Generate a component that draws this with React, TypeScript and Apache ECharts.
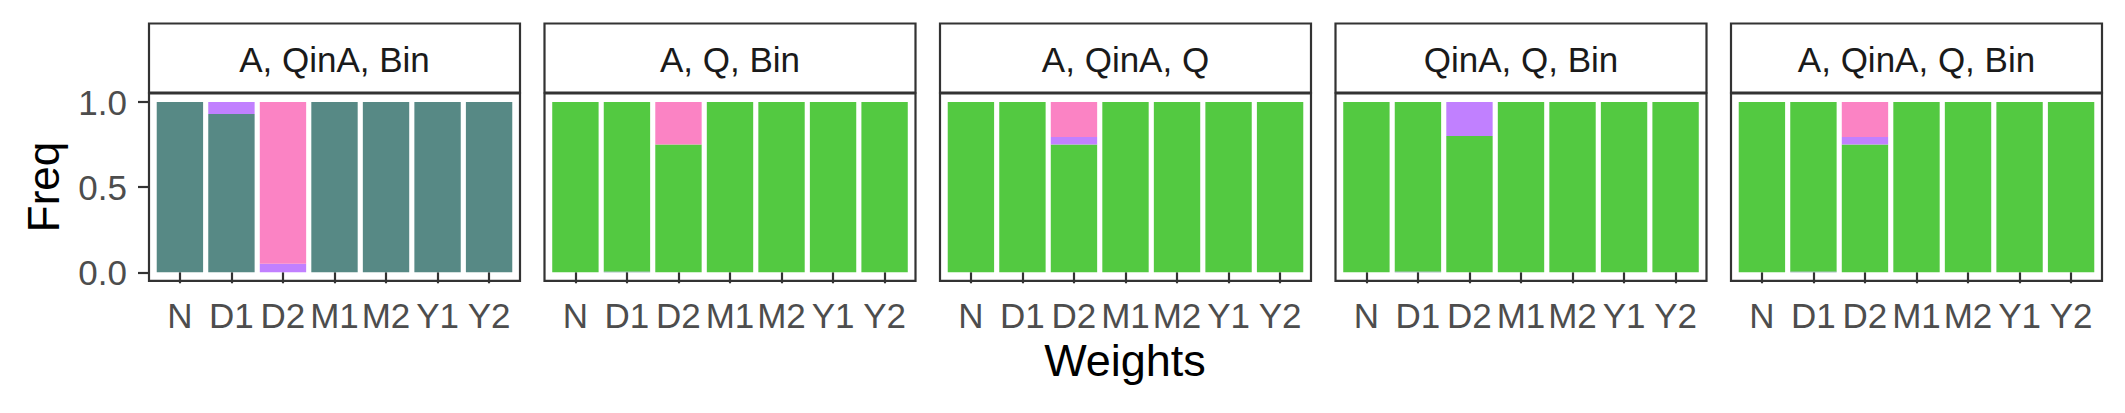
import React, { useEffect, useRef } from "react";
import * as echarts from "echarts";

// ---- data ----
const categories = ["N", "D1", "D2", "M1", "M2", "Y1", "Y2"];
const panelTitles = ["A, QinA, Bin", "A, Q, Bin", "A, QinA, Q", "QinA, Q, Bin", "A, QinA, Q, Bin"];
const yTicks = [0, 0.5, 1.0];
const xAxisTitle = "Weights";
const yAxisTitle = "Freq";

// Frequencies per panel (rows) and per weight category (columns)
const tealFreq = [
  [1, 0.93, 0, 1, 1, 1, 1],
  [0, 0.005, 0, 0, 0, 0, 0],
  [0, 0, 0, 0, 0, 0, 0],
  [0, 0.005, 0, 0, 0, 0, 0],
  [0, 0.005, 0, 0, 0, 0, 0],
];
const greenFreq = [
  [0, 0, 0, 0, 0, 0, 0],
  [1, 0.995, 0.75, 1, 1, 1, 1],
  [1, 1, 0.75, 1, 1, 1, 1],
  [1, 0.995, 0.8, 1, 1, 1, 1],
  [1, 0.995, 0.75, 1, 1, 1, 1],
];
const purpleFreq = [
  [0, 0.07, 0.05, 0, 0, 0, 0],
  [0, 0, 0, 0, 0, 0, 0],
  [0, 0, 0.045, 0, 0, 0, 0],
  [0, 0, 0.2, 0, 0, 0, 0],
  [0, 0, 0.045, 0, 0, 0, 0],
];
const pinkFreq = [
  [0, 0, 0.95, 0, 0, 0, 0],
  [0, 0, 0.25, 0, 0, 0, 0],
  [0, 0, 0.205, 0, 0, 0, 0],
  [0, 0, 0, 0, 0, 0, 0],
  [0, 0, 0.205, 0, 0, 0, 0],
];

const fills = [
  { name: "teal", color: "#578985", values: tealFreq },
  { name: "green", color: "#53C941", values: greenFreq },
  { name: "purple", color: "#C180FF", values: purpleFreq },
  { name: "pink", color: "#FB83C4", values: pinkFreq },
];

const FONT = "'Liberation Sans', Arial, Helvetica, sans-serif";
const W = 2125;
const H = 413;
const PANEL_LEFT0 = 149;
const PANEL_STEP = 395.5;
const PANEL_W = 371;
const PANEL_TOP = 93.5;
const PANEL_H = 187.3;
const STRIP_TOP = 23.5;
const STRIP_H = 69;
const BORDER = "#333333";
const LW = 2.2;
// ggplot discrete expansion: 0.6 units each side -> 7.2 units across the panel
const UNIT = PANEL_W / 7.2;
const INSET = 0.1 * UNIT;

export default function App() {
  const ref = useRef<HTMLDivElement>(null);

  useEffect(() => {
    document.body.style.margin = "0";
    if (!ref.current) return;
    const chart = echarts.init(ref.current, null, { renderer: "svg" });

    const grids: any[] = [];
    const xAxes: any[] = [];
    const yAxes: any[] = [];
    const series: any[] = [];
    const graphics: any[] = [];

    panelTitles.forEach((title, i) => {
      const left = PANEL_LEFT0 + i * PANEL_STEP;
      grids.push({
        left: left + INSET,
        top: PANEL_TOP,
        width: PANEL_W - 2 * INSET,
        height: PANEL_H,
        show: false,
        containLabel: false,
        outerBoundsMode: "none",
      });
      xAxes.push({
        type: "category",
        gridIndex: i,
        data: categories,
        boundaryGap: true,
        axisLine: { show: false },
        splitLine: { show: false },
        axisTick: {
          show: true,
          alignWithLabel: true,
          length: 11,
          lineStyle: { color: BORDER, width: LW },
        },
        axisLabel: {
          show: true,
          interval: 0,
          fontSize: 35,
          fontFamily: FONT,
          color: "#4D4D4D",
          margin: 17,
        },
      });
      yAxes.push({
        type: "value",
        gridIndex: i,
        min: -0.05,
        max: 1.05,
        offset: INSET,
        axisLine: { show: false },
        splitLine: { show: false },
        axisTick: {
          show: i === 0,
          customValues: yTicks,
          length: 11,
          lineStyle: { color: BORDER, width: LW },
        },
        axisLabel: {
          show: i === 0,
          customValues: yTicks,
          formatter: (v: number) => v.toFixed(1),
          fontSize: 35,
          fontFamily: FONT,
          color: "#4D4D4D",
          margin: 22,
        },
      });
      fills.forEach((f) => {
        series.push({
          type: "bar",
          name: f.name,
          xAxisIndex: i,
          yAxisIndex: i,
          stack: "panel" + i,
          barWidth: "90%",
          itemStyle: { color: f.color },
          data: f.values[i],
        });
      });
      graphics.push({
        type: "rect",
        z: 10,
        shape: { x: left, y: PANEL_TOP, width: PANEL_W, height: PANEL_H },
        style: { fill: "none", stroke: BORDER, lineWidth: LW },
      });
      graphics.push({
        type: "rect",
        shape: { x: left, y: STRIP_TOP, width: PANEL_W, height: STRIP_H },
        style: { fill: "#FFFFFF", stroke: BORDER, lineWidth: LW },
      });
      graphics.push({
        type: "text",
        x: left + PANEL_W / 2,
        y: STRIP_TOP + STRIP_H / 2 + 1,
        style: {
          text: title,
          fontSize: 35,
          fontFamily: FONT,
          fill: "#1A1A1A",
          align: "center",
          verticalAlign: "middle",
        },
      });
    });

    graphics.push({
      type: "text",
      x: 1125,
      y: 360,
      style: {
        text: xAxisTitle,
        fontSize: 45,
        fontFamily: FONT,
        fill: "#000000",
        align: "center",
        verticalAlign: "middle",
      },
    });
    graphics.push({
      type: "text",
      x: 43,
      y: 187,
      rotation: Math.PI / 2,
      style: {
        text: yAxisTitle,
        fontSize: 44,
        fontFamily: FONT,
        fill: "#000000",
        align: "center",
        verticalAlign: "middle",
      },
    });

    chart.setOption({
      animation: false,
      backgroundColor: "#FFFFFF",
      grid: grids,
      xAxis: xAxes,
      yAxis: yAxes,
      series,
      graphic: graphics,
    });

    return () => chart.dispose();
  }, []);

  return <div ref={ref} style={{ width: W, height: H }} />;
}
